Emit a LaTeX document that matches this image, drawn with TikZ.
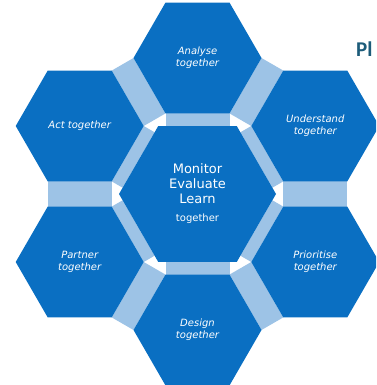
\documentclass[tikz,border=0pt]{standalone}
\usepackage{fontspec}
\usepackage{tikz}
\usetikzlibrary{shapes.geometric,calc,positioning}
\setmainfont{DejaVu Sans}
\newfontfamily\titlefont{Carlito}

\definecolor{hexblue}{HTML}{0A6FC2}
\definecolor{bandblue}{HTML}{9DC3E6}
\definecolor{titleteal}{HTML}{1D5C7A}

\tikzset{
  hexcell/.style={regular polygon, regular polygon sides=6, fill=hexblue,
    minimum size=128pt, inner sep=0pt, text=white, align=center,
    font=\fontsize{10}{12}\selectfont\itshape},
  hexcentre/.style={hexcell, minimum size=157pt,
    font=\fontsize{13}{15}\selectfont\upshape},
  band/.style={fill=bandblue}
}

\begin{document}
\begin{tikzpicture}[x=1pt,y=1pt]
  % Fix the page and cut the cells that run off the right edge
  \useasboundingbox (0,0) rectangle (376,385);
  \clip (0,0) rectangle (376,385);

  % Centre point and outer cell positions
  \coordinate (mid) at (197.5,191);
  \foreach \a/\n in {90/analyse,30/understand,330/prioritise,270/design,210/partner,150/act}
    \coordinate (c-\n) at ($(mid)+(\a:136)$);

  % Draw the light bands from the centre to each cell
  \foreach \a/\n in {90/analyse,30/understand,330/prioritise,270/design,210/partner,150/act}
    \fill[band] ($(c-\n)+(\a+150:64)$) -- ($(c-\n)+(\a+210:64)$)
      -- ($(mid)+(\a:68)+(\a-90:32)$) -- ($(mid)+(\a:68)+(\a+90:32)$) -- cycle;

  % Draw the light bands round the ring
  \foreach \a/\m/\n in {90/analyse/act,150/act/partner,210/partner/design,270/design/prioritise,330/prioritise/understand,30/understand/analyse}
    \fill[band] ($(c-\m)+(\a+90:64)$) -- ($(c-\m)+(\a+150:64)$)
      -- ($(c-\n)+(\a-90:64)$) -- ($(c-\n)+(\a-30:64)$) -- cycle;

  % Draw the cells
  \node[hexcentre] (mel) at (mid) {Monitor\\Evaluate\\Learn\\[3pt]{\fontsize{10}{12}\selectfont together}};
  \node[hexcell] (analyse) at (c-analyse) {Analyse\\together};
  \node[hexcell] (understand) at (c-understand) {Understand\\together};
  \node[hexcell] (prioritise) at (c-prioritise) {Prioritise\\together};
  \node[hexcell] (design) at (c-design) {Design\\together};
  \node[hexcell] (partner) at (c-partner) {Partner\\together};
  \node[hexcell] (act) at (c-act) {Act together};

  % Heading text cut at the edge
  \node[anchor=base west, inner sep=0pt, text=titleteal,
    font=\titlefont\fontsize{21}{24}\selectfont\bfseries] (heading) at (356,328) {Pl};
\end{tikzpicture}
\end{document}
